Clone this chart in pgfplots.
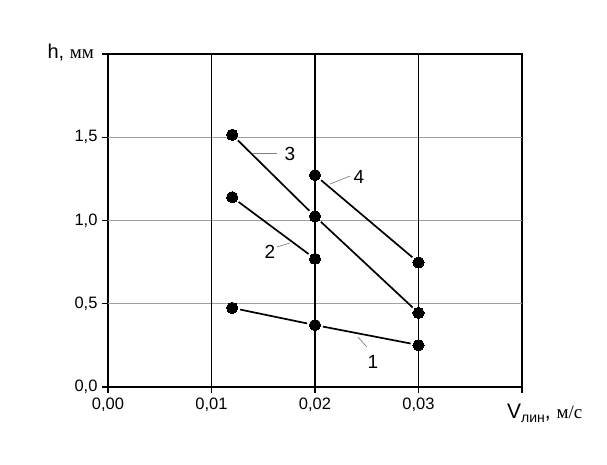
\documentclass[border=0pt]{standalone}
\usepackage{fontspec}
\setmainfont{Liberation Sans}
\newfontfamily\seriffont{Liberation Serif}
\usepackage{pgfplots}
\pgfplotsset{compat=1.18}
\begin{document}
\begin{tikzpicture}[x=1pt,y=1pt]
\useasboundingbox (-108,-78) rectangle (499,387);
\begin{axis}[
  at={(0,0)}, anchor=south west,
  scale only axis, width=414pt, height=333pt,
  xmin=0, xmax=0.04, ymin=0, ymax=2,
  xtick={0,0.01,0.02,0.03,0.04},
  xticklabels={{0,00},{0,01},{0,02},{0,03},{}},
  ytick={0,0.5,1,1.5,2},
  yticklabels={{0,0},{0,5},{1,0},{1,5},{}},
  scaled x ticks=false,
  tick align=outside, major tick length=6pt,
  xtick pos=bottom, ytick pos=left,
  tick style={black, line width=1.2pt},
  axis line style={black, line width=1.8pt},
  tick label style={font=\fontsize{16.5}{19}\selectfont},
  xticklabel style={yshift=-1pt},
  yticklabel style={xshift=-1pt},
  clip=false,
]
% grid
\draw[gray!75, line width=1.2pt] (axis cs:0,0.5) -- (axis cs:0.04,0.5);
\draw[gray!75, line width=1.2pt] (axis cs:0,1.0) -- (axis cs:0.04,1.0);
\draw[gray!75, line width=1.2pt] (axis cs:0,1.5) -- (axis cs:0.04,1.5);
\draw[black, line width=1.6pt] (axis cs:0.01,0) -- (axis cs:0.01,2);
\draw[black, line width=1.6pt] (axis cs:0.02,0) -- (axis cs:0.02,2);
\draw[black, line width=1.6pt] (axis cs:0.03,0) -- (axis cs:0.03,2);
% line segments
\pgfplotsset{seg/.style={black, line width=1.7pt, no marks, shorten >=8pt, shorten <=8pt}}
\addplot[seg] coordinates {(0.012,0.475) (0.020,0.372)};
\addplot[seg] coordinates {(0.020,0.372) (0.030,0.252)};
\addplot[seg] coordinates {(0.012,1.140) (0.020,0.770)};
\addplot[seg] coordinates {(0.012,1.515) (0.020,1.025)};
\addplot[seg] coordinates {(0.020,1.025) (0.030,0.445)};
\addplot[seg] coordinates {(0.020,1.273) (0.030,0.748)};
% markers
\pgfplotsset{pts/.style={only marks, mark=*, mark size=5.6pt, mark options={fill=black, draw=black, line width=0pt}}}
\addplot[pts] coordinates {(0.012,0.475) (0.020,0.372) (0.030,0.252)};
\addplot[pts] coordinates {(0.012,1.140) (0.020,0.770)};
\addplot[pts] coordinates {(0.012,1.515) (0.020,1.025) (0.030,0.445)};
\addplot[pts] coordinates {(0.020,1.273) (0.030,0.748)};
% leaders and labels
\draw[gray, line width=0.7pt] (axis cs:0.01401,1.405) -- (axis cs:0.01633,1.405);
\node[font=\fontsize{19}{22}\selectfont] at (axis cs:0.01758,1.399) {3};
\draw[gray, line width=0.7pt] (axis cs:0.02145,1.219) -- (axis cs:0.02338,1.267);
\node[font=\fontsize{19}{22}\selectfont] at (axis cs:0.02425,1.261) {4};
\draw[gray, line width=0.7pt] (axis cs:0.01633,0.841) -- (axis cs:0.01758,0.865);
\node[font=\fontsize{19}{22}\selectfont] at (axis cs:0.01565,0.811) {2};
\draw[gray, line width=0.7pt] (axis cs:0.02415,0.300) -- (axis cs:0.02502,0.240);
\node[font=\fontsize{19}{22}\selectfont] at (axis cs:0.0256,0.150) {1};
% axis labels
\node[anchor=base east, inner sep=0pt] at ([xshift=-14pt,yshift=-5pt]rel axis cs:0,1)
  {\fontsize{20}{24}\selectfont h, {\seriffont\fontsize{19}{22}\selectfont мм}};
\node[anchor=base west, inner sep=0pt] at ([xshift=-15pt,yshift=-31pt]rel axis cs:1,0)
  {\fontsize{21}{24}\selectfont V\raisebox{-4pt}{\fontsize{14}{16}\selectfont лин}, {\seriffont\fontsize{19}{22}\selectfont м/с}};
\end{axis}
\end{tikzpicture}
\end{document}
